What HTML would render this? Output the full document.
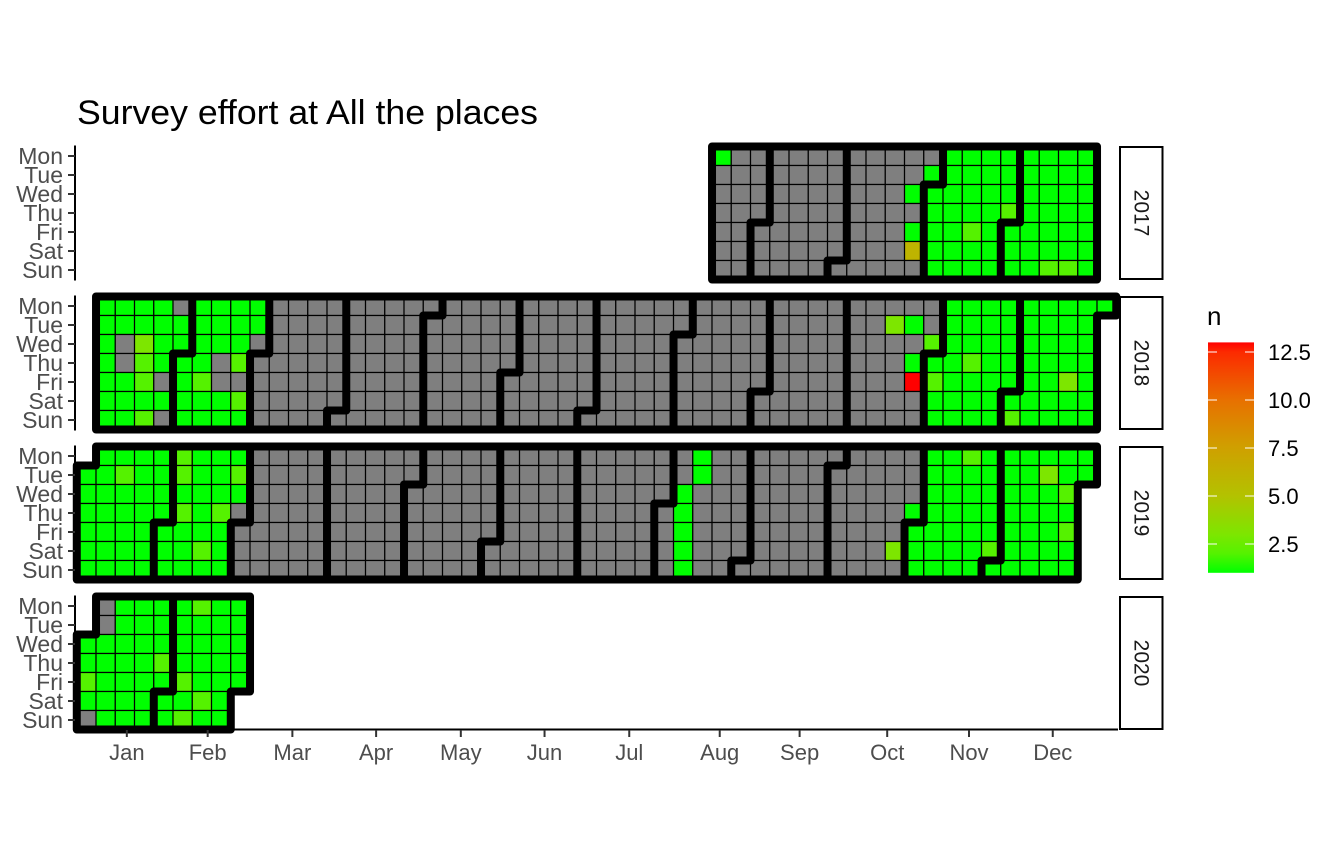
<!DOCTYPE html>
<html><head><meta charset="utf-8"><style>
html,body{margin:0;padding:0;background:#fff;}
svg{display:block;font-family:"Liberation Sans",Arial,sans-serif;}
</style></head><body>
<svg id="chart" width="1344" height="865" viewBox="0 0 1344 865" xmlns="http://www.w3.org/2000/svg">
<defs>
<linearGradient id="legendGrad" x1="0" y1="1" x2="0" y2="0"></linearGradient>
</defs>
<text x="77" y="124" font-size="34" fill="#000" textLength="461" lengthAdjust="spacingAndGlyphs">Survey effort at All the places</text>
<g id="panels"></g>
<g id="outlines"></g>
<g id="axes"></g>
<g id="legend"></g>
</svg>
<script>
// ---- data ----
const years = [2017, 2018, 2019, 2020];
const dayLabels = ["Mon","Tue","Wed","Thu","Fri","Sat","Sun"];
const monthLabels = ["Jan","Feb","Mar","Apr","May","Jun","Jul","Aug","Sep","Oct","Nov","Dec"];
const monthTickWeeks = [2.1, 6.3, 10.7, 15.05, 19.45, 23.8, 28.2, 32.9, 37.05, 41.6, 45.85, 50.2];
const legendTicks = [2.5, 5.0, 7.5, 10.0, 12.5];
// value codes per week column (0..53), rows Mon..Sun; ' ' = no date, '.' = NA, digits = n, 'd' = 13
const rows2017 = [
  " ".repeat(33)+"1"+".".repeat(11)+"1".repeat(8),
  " ".repeat(33)+".".repeat(11)+"1".repeat(9),
  " ".repeat(33)+".".repeat(10)+"1"+"1".repeat(9),
  " ".repeat(33)+".".repeat(11)+"1111"+"2"+"1111",
  " ".repeat(33)+".".repeat(10)+"1"+"112111111",
  " ".repeat(33)+".".repeat(10)+"6"+"1".repeat(9),
  " ".repeat(33)+".".repeat(11)+"111111"+"22"+"1"
];
const rows2018 = [
  " "+"1111"+"."+"1111"+".".repeat(35)+"1".repeat(9),
  " "+"11111"+"1111"+".".repeat(32)+"3"+"1"+"."+"1".repeat(8),
  " "+"1"+"."+"3"+"11"+"111"+".".repeat(35)+"2"+"1".repeat(8),
  " "+"1.2111.2"+".".repeat(34)+"1"+"112111111",
  " "+"112.12.."+".".repeat(34)+"d"+"2"+"11111131",
  " "+"1111111"+"2"+".".repeat(35)+"1".repeat(9),
  " "+"112.1111"+".".repeat(35)+"111121111"
];
const rows2019 = [
  " "+"1111"+"2"+"111"+".".repeat(23)+"1"+".".repeat(11)+"112"+"111111",
  "112112112"+".".repeat(23)+"1"+".".repeat(11)+"111111"+"3"+"11",
  "1".repeat(9)+".".repeat(22)+"1"+".".repeat(12)+"1".repeat(7)+"2",
  "11111212."+".".repeat(22)+"1"+".".repeat(11)+"1"+"1".repeat(8),
  "11111111."+".".repeat(22)+"1"+".".repeat(11)+"1".repeat(8)+"2",
  "11111121."+".".repeat(22)+"1"+".".repeat(10)+"3"+"1111"+"2"+"1111",
  "11111111."+".".repeat(22)+"1"+".".repeat(11)+"1".repeat(9)
];
const rows2020 = [
  " .1111211",
  " .1111111",
  "111111111",
  "111121111",
  "211112111",
  "11111121",
  ".1111211"
];
const yearRows = [rows2017, rows2018, rows2019, rows2020];
// gradient stops (value, colour)
const gradVals = [1, 2, 3, 5, 7.5, 10, 12.5, 13];
const gradCols = ["#00ff00","#55f200","#7de600","#b3c200","#cfa000","#e87000","#fc2a00","#ff0000"];

// ---- scales ----
const X0 = 86.4, W = 19.25, RH = 19, TOP0 = 146.5, PSTEP = 150;
const xScale = c => X0 + W * c;
const yScale = (p, r) => TOP0 + PSTEP * p + RH * r;
const NS = "http://www.w3.org/2000/svg";
function mk(tag, attrs, parent){ const e=document.createElementNS(NS,tag); for(const k in attrs) e.setAttribute(k,attrs[k]); parent.appendChild(e); return e; }
function hex(h){return [parseInt(h.slice(1,3),16),parseInt(h.slice(3,5),16),parseInt(h.slice(5,7),16)];}
function colorFor(v){
  if (v<=gradVals[0]) return gradCols[0];
  for(let i=1;i<gradVals.length;i++){ if(v<=gradVals[i]){ const t=(v-gradVals[i-1])/(gradVals[i]-gradVals[i-1]); const a=hex(gradCols[i-1]), b=hex(gradCols[i]); return "rgb("+a.map((x,j)=>Math.round(x+(b[j]-x)*t)).join(",")+")"; } }
  return gradCols[gradCols.length-1];
}
function codeVal(ch){ return ch==="d"?13:parseInt(ch,10); }
function monthOf(year,col,row){
  const jan1 = new Date(year,0,1); const mon0 = (jan1.getDay()+6)%7;
  const firstMon = (7-mon0)%7;
  const yd = firstMon + (col-1)*7 + row;
  return new Date(year,0,1+yd).getMonth();
}

const panels = document.getElementById("panels");
const outlines = document.getElementById("outlines");
const axes = document.getElementById("axes");
years.forEach((yr,p)=>{
  const g = mk("g",{},panels);
  
  
  const rows = yearRows[p].map(s=>s.padEnd(54," "));
  const exists = (c,r)=> c>=0 && c<54 && r>=0 && r<7 && rows[r][c]!==" ";
  for(let r=0;r<7;r++) for(let c=0;c<54;c++){
    const ch = rows[r][c]; if(ch===" ") continue;
    const fill = ch==="." ? "#7f7f7f" : colorFor(codeVal(ch));
    const rect = mk("rect",{x:xScale(c-0.5),y:yScale(p,r),width:W,height:RH,fill:fill,stroke:"#000","stroke-width":1.2},g);
    
    
  }
  const og = mk("g",{stroke:"#000","stroke-width":8,"stroke-linecap":"round",fill:"none"},outlines);
  
  
  let d="";
  for(let r=0;r<7;r++) for(let c=0;c<54;c++){
    if(!exists(c,r)) continue;
    const m = monthOf(yr,c,r);
    const diff=(cc,rr)=> !exists(cc,rr) || monthOf(yr,cc,rr)!==m;
    const xl=xScale(c-0.5), xr=xScale(c+0.5), yt=yScale(p,r), yb=yScale(p,r+1);
    if(diff(c-1,r)) d+=`M${xl},${yt}L${xl},${yb}`;
    if(diff(c+1,r)) d+=`M${xr},${yt}L${xr},${yb}`;
    if(diff(c,r-1)) d+=`M${xl},${yt}L${xr},${yt}`;
    if(diff(c,r+1)) d+=`M${xl},${yb}L${xr},${yb}`;
  }
  mk("path",{d:d},og);
  const top=yScale(p,0), bot=yScale(p,7);
  const al = mk("line",{x1:75,x2:75,y1:top-1,y2:bot+1,stroke:"#000","stroke-width":2},axes);
  
  
  dayLabels.forEach((lab,r)=>{
    const yc = yScale(p,r)+RH/2;
    mk("line",{x1:68,x2:75,y1:yc,y2:yc,stroke:"#333","stroke-width":2},axes);
    const t = mk("text",{x:63,y:yc+8,"text-anchor":"end","font-size":23,fill:"#4d4d4d"},axes);
    t.textContent = lab;
    
    
  });
  const sg = mk("g",{},axes);
  
  
  mk("rect",{x:1120,y:top+0.5,width:42.5,height:bot-top-1,fill:"#fff",stroke:"#000","stroke-width":2},sg);
  const cy=(top+bot)/2;
  const st = mk("text",{x:1141,y:cy,"text-anchor":"middle","font-size":21,fill:"#1a1a1a","dominant-baseline":"central",transform:`rotate(90 1141 ${cy})`},sg);
  st.textContent = String(yr);
});
const xa = mk("line",{x1:74,x2:1118,y1:729.5,y2:729.5,stroke:"#000","stroke-width":2},axes);


monthLabels.forEach((m,i)=>{
  const x = xScale(monthTickWeeks[i]);
  mk("line",{x1:x,x2:x,y1:730,y2:737,stroke:"#333","stroke-width":2},axes);
  const t = mk("text",{x:x,y:760,"text-anchor":"middle","font-size":22,fill:"#4d4d4d"},axes);
  t.textContent = m;
  
  
});
const grad = document.getElementById("legendGrad");
const vmin=1, vmax=13;
gradVals.forEach((v,i)=> mk("stop",{offset:((v-vmin)/(vmax-vmin)),"stop-color":gradCols[i]},grad));
const lg = document.getElementById("legend");
const ly = v => 544 - (v-2.5)*19.2;
const lt = mk("text",{x:1207,y:325,"font-size":26,fill:"#000"},lg);
lt.textContent="n";


const bar = mk("rect",{x:1208,y:ly(vmax),width:46,height:ly(vmin)-ly(vmax),fill:"url(#legendGrad)"},lg);


legendTicks.forEach(v=>{
  const y=ly(v);
  mk("line",{x1:1208,x2:1217,y1:y,y2:y,stroke:"#fff","stroke-width":1},lg);
  mk("line",{x1:1245,x2:1254,y1:y,y2:y,stroke:"#fff","stroke-width":1},lg);
  const t = mk("text",{x:1268,y:y+8,"font-size":22,fill:"#000"},lg);
  t.textContent = v.toFixed(1);
  
  
});
</script>
</body></html>
